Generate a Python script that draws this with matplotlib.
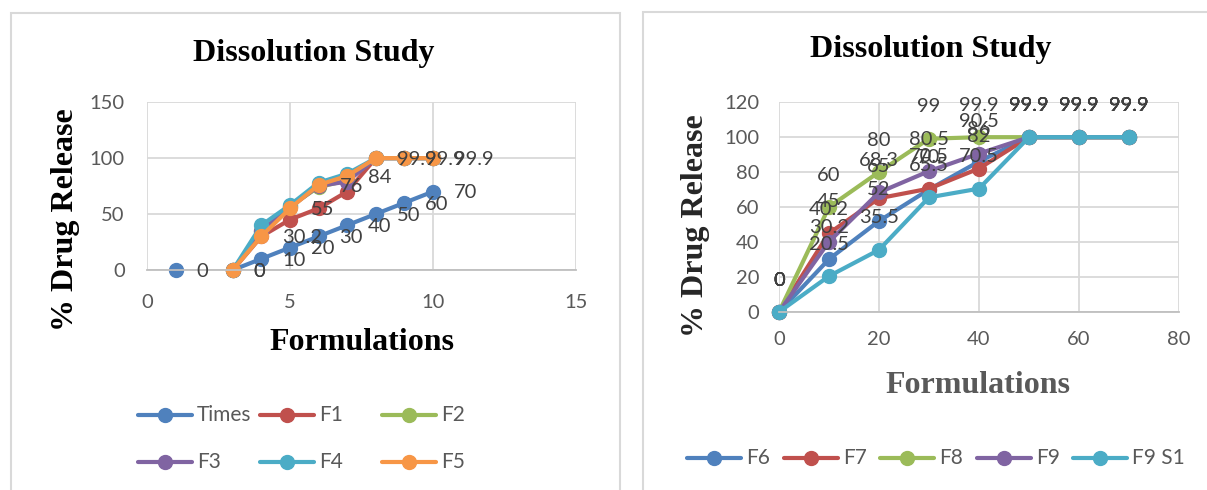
import matplotlib
matplotlib.use('Agg')
import matplotlib.pyplot as plt
from matplotlib.lines import Line2D
from matplotlib.patches import Rectangle
import numpy as np

nan = np.nan

# left chart: formulation number vs % release
left_x = [1, 2, 3, 4, 5, 6, 7, 8, 9, 10]
times = [0, nan, 0, 10, 20, 30, 40, 50, 60, 70]
f1 = [nan, nan, 0, 30, 45, 55, 70, 99.9, 99.9, 99.9]
f2 = [nan, nan, 0, 35, 57, 74, 80, 99.9, 99.9, 99.9]
f3 = [nan, nan, 0, 35, 56, 75, 79, 99.9, 99.9, 99.9]
f4 = [nan, nan, 0, 40, 58, 78, 86, 99.9, 99.9, 99.9]
f5 = [nan, nan, 0, 30.2, 55, 76, 84, 99.9, 99.9, 99.9]
left_names = ['Times', 'F1', 'F2', 'F3', 'F4', 'F5']
left_labelled = ['Times', 'F5']

# right chart: time vs % release
right_x = [0, 10, 20, 30, 40, 50, 60, 70]
f6 = [0, 30.2, 52, 70, 86, 99.9, 99.9, 99.9]
f7 = [0, 45, 65, 70.5, 82, 99.9, 99.9, 99.9]
f8 = [0, 60, 80, 99, 99.9, 99.9, 99.9, 99.9]
f9 = [0, 40.2, 68.3, 80.5, 90.5, 99.9, 99.9, 99.9]
f9s1 = [0, 20.5, 35.5, 65.5, 70.5, 99.9, 99.9, 99.9]
right_names = ['F6', 'F7', 'F8', 'F9', 'F9 S1']

colors = ['#4F81BD', '#C0504D', '#9BBB59', '#8064A2', '#4BACC6', '#F79646']

W, H, DPI = 1207, 490, 100
SANS = 'Lato'
SERIF = 'Liberation Serif'
GREY = '#595959'


def fx(x):
    return x / W


def fy(y):
    return 1 - y / H


def ax_rect(x0, x1, ytop, ybot):
    return [fx(x0), fy(ybot), (x1 - x0) / W, (ybot - ytop) / H]


def style_axes(ax, xlim, ylim, xticks, yticks, xpad, ypad):
    ax.set_xlim(*xlim)
    ax.set_ylim(*ylim)
    ax.set_xticks(xticks)
    ax.set_yticks(yticks)
    for s in ['top', 'right', 'left']:
        ax.spines[s].set_visible(False)
    ax.spines['bottom'].set_color('#bfbfbf')
    ax.spines['bottom'].set_linewidth(1.3)
    ax.grid(True, color='#d9d9d9', lw=1.3)
    ax.set_axisbelow(True)
    ax.tick_params(length=0, labelsize=14.5, labelcolor=GREY)
    ax.tick_params(axis='x', pad=xpad)
    ax.tick_params(axis='y', pad=ypad)
    for t in ax.get_xticklabels() + ax.get_yticklabels():
        t.set_family(SANS)
    ax.patch.set_alpha(0)


def legend_entry(fig, x, y, color, text):
    fig.add_artist(Line2D([fx(x), fx(x + 54)], [fy(y), fy(y)], color=color, lw=3,
                          solid_capstyle='round', transform=fig.transFigure))
    fig.add_artist(Line2D([fx(x + 27)], [fy(y)], marker='o', ms=10, color=color,
                          transform=fig.transFigure))
    fig.text(fx(x + 59), fy(y), text, ha='left', va='center', fontsize=15,
             color=GREY, family=SANS)


fig = plt.figure(figsize=(W / DPI, H / DPI), dpi=DPI)

# chart panels
fig.add_artist(Rectangle((fx(11), fy(500)), (620 - 11) / W, (500 - 13) / H, fill=False,
                         ec='#d9d9d9', lw=1.5, transform=fig.transFigure))
fig.add_artist(Rectangle((fx(643), fy(500)), (1215 - 643) / W, (500 - 12) / H, fill=False,
                         ec='#d9d9d9', lw=1.5, transform=fig.transFigure))

# ---- left chart
ax1 = fig.add_axes(ax_rect(147, 576, 102, 270))
style_axes(ax1, (0, 15), (0, 150), [0, 5, 10, 15], [0, 50, 100, 150], 17, 16)
left_data = [times, f1, f2, f3, f4, f5]
for name, ys, c in zip(left_names, left_data, colors):
    ax1.plot(left_x, ys, color=c, lw=3, marker='o', ms=10, clip_on=False)
for name, ys in zip(left_names, left_data):
    if name not in left_labelled:
        continue
    for x, v in zip(left_x, ys):
        if np.isnan(v):
            continue
        ax1.annotate(f'{v:g}', (x, v), xytext=(15, -1), textcoords='offset points',
                     ha='left', va='center', fontsize=14.5, color='#404040', family=SANS,
                     annotation_clip=False)

fig.text(fx(314), fy(54), 'Dissolution Study', ha='center', va='center',
         family=SERIF, weight='bold', fontsize=23)
fig.text(fx(65), fy(220), '% Drug Release', ha='center', va='center', rotation=90,
         family=SERIF, weight='bold', fontsize=23)
fig.text(fx(362), fy(343), 'Formulations', ha='center', va='center',
         family=SERIF, weight='bold', fontsize=23)

lx = [138, 260, 382]
ly = [415, 462]
for i, (name, c) in enumerate(zip(left_names, colors)):
    legend_entry(fig, lx[i % 3], ly[i // 3], c, name)

# ---- right chart
ax2 = fig.add_axes(ax_rect(779, 1179, 102, 312))
style_axes(ax2, (0, 80), (0, 120), [0, 20, 40, 60, 80], list(range(0, 121, 20)), 14, 14)
right_data = [f6, f7, f8, f9, f9s1]
right_colors = colors[:5]
for name, ys, c in zip(right_names, right_data, right_colors):
    ax2.plot(right_x, ys, color=c, lw=3, marker='o', ms=10, clip_on=False)
for ys in right_data:
    for x, v in zip(right_x, ys):
        ax2.annotate(f'{v:g}', (x, v), xytext=(0, 23), textcoords='offset points',
                     ha='center', va='center', fontsize=14.5, color='#404040', family=SANS,
                     annotation_clip=False)

fig.text(fx(931), fy(50), 'Dissolution Study', ha='center', va='center',
         family=SERIF, weight='bold', fontsize=23)
fig.text(fx(695), fy(226), '% Drug Release', ha='center', va='center', rotation=90,
         family=SERIF, weight='bold', fontsize=23, color='#262626')
fig.text(fx(978), fy(385), 'Formulations', ha='center', va='center',
         family=SERIF, weight='bold', fontsize=23, color=GREY)

rx = [687, 784, 880, 977, 1073]
for x, name, c in zip(rx, right_names, right_colors):
    legend_entry(fig, x, 458, c, name)

fig.savefig('out.png', dpi=DPI)
